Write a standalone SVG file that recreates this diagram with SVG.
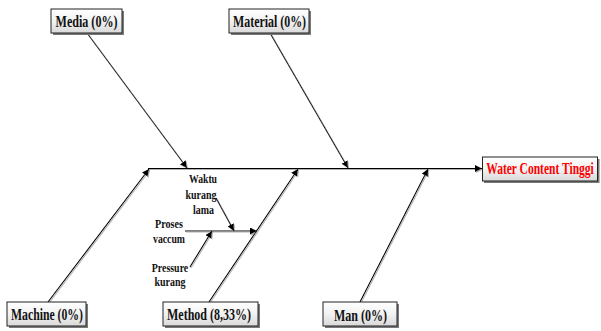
<svg xmlns="http://www.w3.org/2000/svg" width="601" height="331" viewBox="0 0 601 331">
<defs>
<linearGradient id="boxfill" x1="0" y1="0" x2="0" y2="1">
<stop offset="0" stop-color="#ffffff"/>
<stop offset="0.5" stop-color="#f2f2f2"/>
<stop offset="1" stop-color="#d9d9d9"/>
</linearGradient>
<marker id="arr" viewBox="0 0 10 10" refX="10" refY="5" markerWidth="7" markerHeight="7" markerUnits="userSpaceOnUse" orient="auto">
<path d="M0,0 L10,5 L0,10 z" fill="#000"/>
</marker>
<filter id="lsh" x="-10%" y="-10%" width="120%" height="120%">
<feDropShadow dx="1" dy="1" stdDeviation="0.3" flood-color="#b0b0b0" flood-opacity="1"/>
</filter>
</defs>
<style>
.shadow{fill:#7a7a7a}
.box{fill:url(#boxfill);stroke:#222;stroke-width:1}
.lbl{font-family:"Liberation Serif","Times New Roman",serif;font-weight:bold;font-size:16px;fill:#111;text-anchor:middle}
.red{fill:#ff0000}
.sm{font-family:"Liberation Serif","Times New Roman",serif;font-weight:bold;font-size:13px;fill:#111;text-anchor:middle}
.ln{stroke:#000;stroke-width:1.1;fill:none}
.ar{marker-end:url(#arr)}
</style>
<g id="connectors" filter="url(#lsh)">
<line class="ln ar" x1="148" y1="168.5" x2="482" y2="168.5"/>
<line class="ln ar" x1="87" y1="33" x2="187" y2="168"/>
<line class="ln ar" x1="270" y1="33" x2="348" y2="168"/>
<line class="ln ar" x1="48" y1="302" x2="149" y2="169"/>
<line class="ln ar" x1="209" y1="302" x2="298" y2="169"/>
<line class="ln ar" x1="360" y1="302" x2="428" y2="169"/>
<line class="ln ar" x1="185" y1="231" x2="257" y2="231"/>
<line class="ln ar" x1="216" y1="198" x2="234" y2="231"/>
<line class="ln ar" x1="190" y1="267" x2="212" y2="231"/>
</g>
<g id="media">
<rect class="shadow" x="53" y="11" width="71" height="24"/>
<rect class="box" x="51" y="9" width="71" height="24"/>
<text class="lbl" x="86.5" y="26.5" textLength="62" lengthAdjust="spacingAndGlyphs">Media (0%)</text>
</g>
<g id="material">
<rect class="shadow" x="231" y="11" width="80" height="24"/>
<rect class="box" x="229" y="9" width="80" height="24"/>
<text class="lbl" x="269.5" y="26.5" textLength="73" lengthAdjust="spacingAndGlyphs">Material (0%)</text>
</g>
<g id="water-content">
<rect class="shadow" x="484" y="159" width="115.5" height="24"/>
<rect class="box" x="482.5" y="157" width="115" height="24"/>
<text class="lbl red" transform="translate(540,174) scale(0.72,1)" x="0" y="0">Water Content Tinggi</text>
</g>
<g id="machine">
<rect class="shadow" x="9" y="304" width="79" height="24"/>
<rect class="box" x="7" y="302" width="79" height="24"/>
<text class="lbl" x="47" y="320" textLength="72" lengthAdjust="spacingAndGlyphs">Machine (0%)</text>
</g>
<g id="method">
<rect class="shadow" x="165" y="304" width="95" height="24"/>
<rect class="box" x="163" y="302" width="95" height="24"/>
<text class="lbl" x="209" y="320" textLength="84" lengthAdjust="spacingAndGlyphs">Method (8,33%)</text>
</g>
<g id="man">
<rect class="shadow" x="325" y="304" width="74" height="24"/>
<rect class="box" x="323" y="302" width="74" height="24"/>
<text class="lbl" x="360.5" y="320.5" textLength="53" lengthAdjust="spacingAndGlyphs">Man (0%)</text>
</g>
<g id="waktu-kurang-lama">
<text class="sm" x="203" y="183" textLength="28" lengthAdjust="spacingAndGlyphs">Waktu</text>
<text class="sm" x="201" y="199" textLength="31" lengthAdjust="spacingAndGlyphs">kurang</text>
<text class="sm" x="203.5" y="214" textLength="21" lengthAdjust="spacingAndGlyphs">lama</text>
</g>
<g id="proses-vaccum">
<text class="sm" x="169" y="228" textLength="28" lengthAdjust="spacingAndGlyphs">Proses</text>
<text class="sm" x="169" y="243" textLength="32" lengthAdjust="spacingAndGlyphs">vaccum</text>
</g>
<g id="pressure-kurang">
<text class="sm" x="170" y="271.5" textLength="36.5" lengthAdjust="spacingAndGlyphs">Pressure</text>
<text class="sm" x="170" y="286" textLength="31" lengthAdjust="spacingAndGlyphs">kurang</text>
</g>
</svg>
